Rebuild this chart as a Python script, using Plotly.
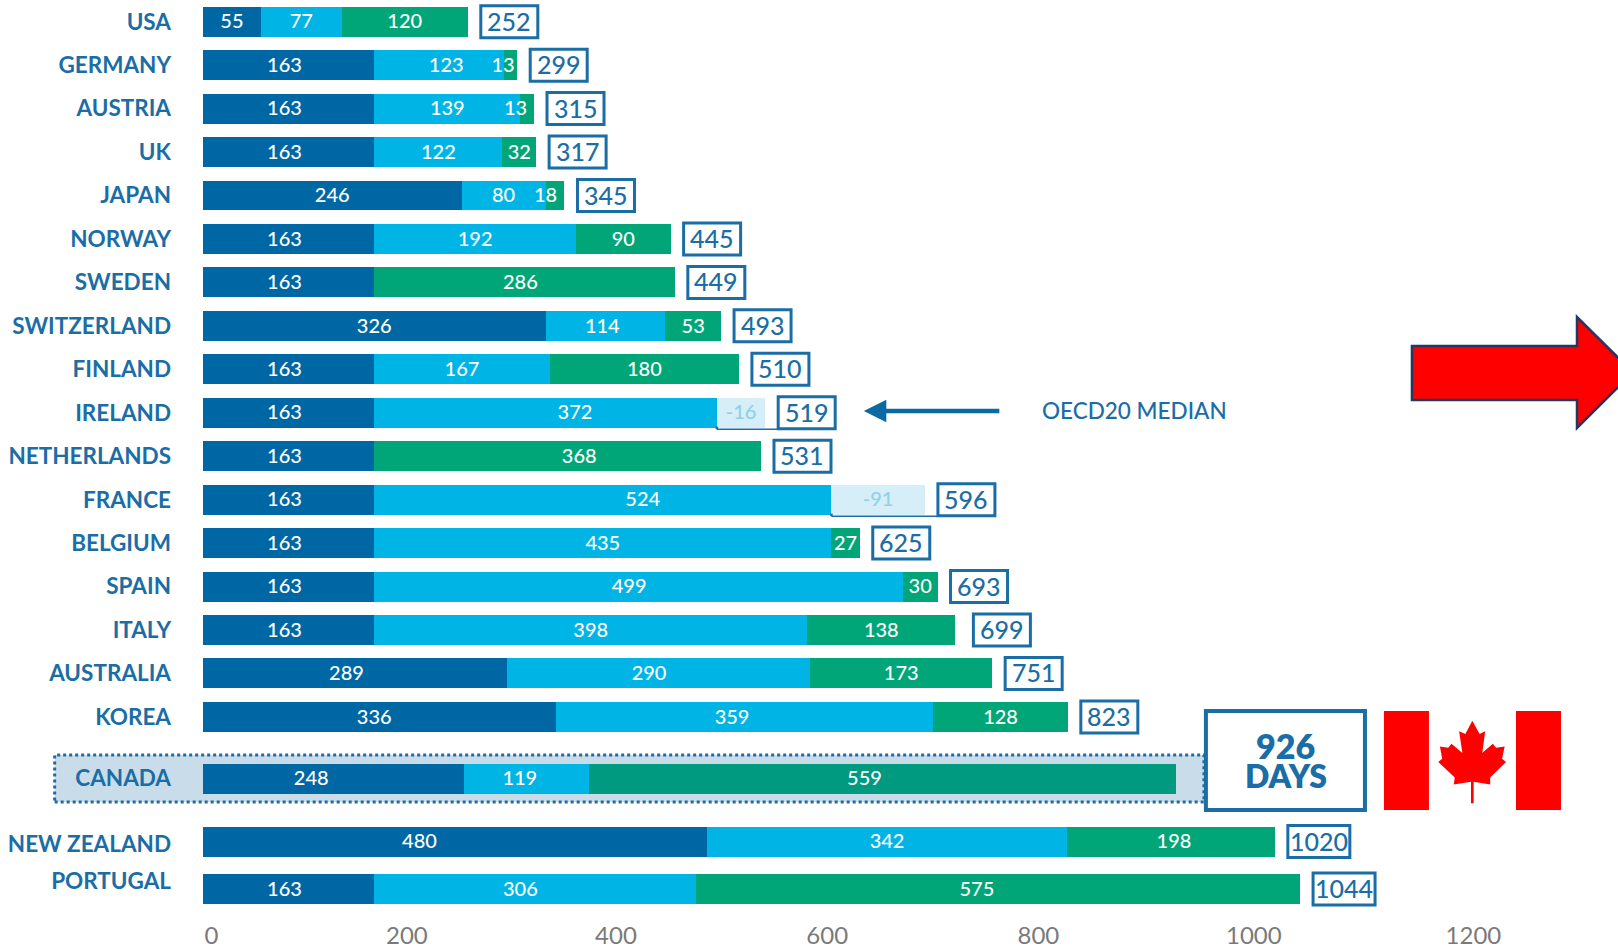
import plotly.graph_objects as go

# ---------- data ----------
countries = ["USA", "GERMANY", "AUSTRIA", "UK", "JAPAN", "NORWAY", "SWEDEN", "SWITZERLAND", "FINLAND", "IRELAND",
             "NETHERLANDS", "FRANCE", "BELGIUM", "SPAIN", "ITALY", "AUSTRALIA", "KOREA", "CANADA", "NEW ZEALAND", "PORTUGAL"]
# lengths as drawn
dark_len = [55, 163, 163, 163, 246, 163, 163, 326, 163, 163, 163, 163, 163, 163, 163, 289, 336, 248, 480, 163]
light_len = [77, 123, 139, 122, 80, 192, 0, 114, 167, 326, 0, 435, 435, 503, 412, 289, 359, 119, 342, 306]
green_len = [120, 13, 13, 32, 18, 90, 286, 53, 180, 0, 368, 0, 27, 33, 141, 173, 128, 559, 198, 575]
ghost_len = [0, 0, 0, 0, 0, 0, 0, 0, 0, 46, 0, 89, 0, 0, 0, 0, 0, 0, 0, 0]
# values as printed
dark_txt = ["55", "163", "163", "163", "246", "163", "163", "326", "163", "163", "163", "163", "163", "163", "163", "289", "336", "248", "480", "163"]
light_txt = ["77", "123", "139", "122", "80", "192", "", "114", "167", "372", "", "524", "435", "499", "398", "290", "359", "119", "342", "306"]
green_txt = ["120", "13", "13", "32", "18", "90", "286", "53", "180", "", "368", "", "27", "30", "138", "173", "128", "559", "198", "575"]
ghost_txt = ["", "", "", "", "", "", "", "", "", "-16", "", "-91", "", "", "", "", "", "", "", ""]
totals = [252, 299, 315, 317, 345, 445, 449, 493, 510, 519, 531, 596, 625, 693, 699, 751, 823, 926, 1020, 1044]
x_tick_text = ["0", "200", "400", "600", "800", "1000", "1200"]
# where the reference prints those labels on the bar scale
x_tick_pos = [8, 194, 393, 594, 795, 1000, 1209]

# ---------- layout constants ----------
rows = [0, 1, 2, 3, 4, 5, 6, 7, 8, 9, 10, 11, 12, 13, 14, 15, 16, 17.42, 18.87, 19.96]
label_rows = [0, 1, 2, 3, 4, 5, 6, 7, 8, 9, 10, 11, 12, 13, 14, 15, 16, 17.42, 18.92, 19.77]
label_nudge = {("GERMANY", 2): -7, ("AUSTRIA", 2): -11, ("JAPAN", 2): -9, ("IRELAND", 1): 28, ("FRANCE", 1): 38,
               ("AUSTRALIA", 0): -8, ("KOREA", 0): -5, ("CANADA", 0): -21, ("NEW ZEALAND", 0): -34,
               ("AUSTRALIA", 1): -9, ("KOREA", 1): -12, ("CANADA", 1): -6, ("PORTUGAL", 1): -14, ("SPAIN", 1): -9,
               ("GERMANY", 1): 7, ("SWITZERLAND", 1): -3,
               ("CANADA", 2): -17, ("PORTUGAL", 2): -20, ("NETHERLANDS", 2): 11, ("SWEDEN", 2): -4, ("NEW ZEALAND", 2): 3}
box_nudge = {"ITALY": 5}

W, H = 1618, 951
LEFT = 203.3
BOTTOM = 36
PLOT_H = H - BOTTOM
X_SCALE = 1.0506
ROW_PX = 43.45
ROW0_PX = 21.7
BLUE = "#1A6DA5"
DARK, LIGHT, GREEN, GREEN_CA, GHOST = "#0067A5", "#00B5E6", "#00A678", "#009A80", "#D6EEF8"
FONT = "Lato"


def px(x):
    return (x - LEFT) / (W - LEFT)


def py(y):
    return 1 - y / PLOT_H


def poly(points):
    return "M" + " L".join(f"{px(a):.5f},{py(b):.5f}" for a, b in points) + " Z"


fig = go.Figure()
greens = [GREEN_CA if c == "CANADA" else GREEN for c in countries]
for name, vals, col in [("Dark", dark_len, DARK), ("Light", light_len, LIGHT), ("Green", green_len, greens), ("Ghost", ghost_len, GHOST)]:
    fig.add_trace(go.Bar(y=rows, x=vals, name=name, orientation="h", width=0.69, marker=dict(color=col, line_width=0), showlegend=False))

# segment labels
lx, ly, lt, lc = [], [], [], []
for i, c in enumerate(countries):
    start = 0
    for s, (vals, txt) in enumerate([(dark_len, dark_txt), (light_len, light_txt), (green_len, green_txt), (ghost_len, ghost_txt)]):
        if txt[i]:
            lx.append(start + vals[i] / 2 + label_nudge.get((c, s), 0) - (4 if s == 0 and vals[i] == 163 else 0))
            ly.append(rows[i] + 0.04)
            lt.append(txt[i])
            lc.append("#8FD0EC" if s == 3 else "white")
        start += vals[i]
fig.add_trace(go.Scatter(x=lx, y=ly, text=lt, mode="text", textposition="middle center",
                         textfont=dict(family=FONT, size=20, color=lc, weight=500), showlegend=False, cliponaxis=False))

shapes = []
# Canada band
shapes.append(dict(type="rect", xref="paper", yref="paper", layer="below", x0=px(55), x1=px(1204), y0=py(802), y1=py(755),
                   fillcolor="#C9DCEA", line=dict(color=BLUE, width=3, dash="dot")))
# Big total box
shapes.append(dict(type="rect", xref="paper", yref="paper", x0=px(1206), x1=px(1365), y0=py(810), y1=py(711),
                   fillcolor="white", line=dict(color=BLUE, width=4)))
# Flag
shapes.append(dict(type="rect", xref="paper", yref="paper", x0=px(1384), x1=px(1429), y0=py(810), y1=py(711), fillcolor="#FF0000", line_width=0))
shapes.append(dict(type="rect", xref="paper", yref="paper", x0=px(1516), x1=px(1561), y0=py(810), y1=py(711), fillcolor="#FF0000", line_width=0))
leaf = [(1118, 90), (1140, 130), (1157, 122), (1148, 188), (1180, 160), (1190, 172), (1216, 168), (1208, 205), (1220, 215),
        (1172, 262), (1172, 283), (1122, 275), (1122, 340), (1114, 340), (1114, 275), (1062, 283), (1065, 262), (1015, 215),
        (1027, 205), (1020, 168), (1045, 172), (1055, 160), (1088, 188), (1078, 122), (1097, 130)]
shapes.append(dict(type="path", xref="paper", yref="paper", path=poly([(1103 + a / 3.027, 691 + b / 3.027) for a, b in leaf]),
                   fillcolor="#FF0000", line_width=0))
# Red arrow
shapes.append(dict(type="path", xref="paper", yref="paper",
                   path=poly([(1412, 346), (1577, 346), (1577, 317), (1633, 372.5), (1577, 428), (1577, 400), (1412, 400)]),
                   fillcolor="#FF0000", line=dict(color="#1F3864", width=2.5)))

ann = []
# total boxes
for i, c in enumerate(countries):
    if c == "CANADA":
        continue
    end = dark_len[i] + light_len[i] + green_len[i] + ghost_len[i]
    box_w = 62 if totals[i] >= 1000 else 57
    gap = 13 + box_nudge.get(c, 0)
    shapes.append(dict(type="rect", xref="x", yref="y", xsizemode="pixel", ysizemode="pixel", xanchor=end, yanchor=rows[i],
                       x0=gap, x1=gap + box_w, y0=-16, y1=16, fillcolor="white", line=dict(color=BLUE, width=3)))
    ann.append(dict(x=end, y=rows[i], xref="x", yref="y", xanchor="center", yanchor="middle", xshift=gap + box_w / 2, yshift=1,
                    text=str(totals[i]), showarrow=False, font=dict(family=FONT, size=25, color=BLUE, weight=500)))
    # connector under the faded segments
    if ghost_len[i]:
        start = dark_len[i] + light_len[i]
        yy = rows[i] + 0.38
        shapes.append(dict(type="line", xref="x", yref="y", x0=start, x1=end + 12, y0=yy, y1=yy, line=dict(color=BLUE, width=1.5)))
        shapes.append(dict(type="line", xref="x", yref="y", x0=start, x1=start, y0=rows[i] + 0.32, y1=yy, line=dict(color=BLUE, width=2.5)))

ann.append(dict(x=px(1286), y=py(745), xref="paper", yref="paper", xanchor="center", yanchor="middle", text="926", showarrow=False,
                font=dict(family=FONT, size=34, color=BLUE, weight=800)))
ann.append(dict(x=px(1286), y=py(775), xref="paper", yref="paper", xanchor="center", yanchor="middle", text="DAYS", showarrow=False,
                font=dict(family=FONT, size=32, color=BLUE, weight=800)))
# OECD median
ann.append(dict(x=px(864), y=py(411), xref="paper", yref="paper", ax=137, ay=0, text="", showarrow=True, arrowhead=2,
                arrowsize=1, arrowwidth=4.5, arrowcolor="#0B69A3"))
ann.append(dict(x=px(1040), y=py(411), xref="paper", yref="paper", xanchor="left", yanchor="middle", text="OECD20 MEDIAN", showarrow=False,
                font=dict(family=FONT, size=22.5, color=BLUE, weight=500)))

fig.update_layout(
    width=W, height=H, margin=dict(l=LEFT, r=0, t=0, b=BOTTOM), autosize=False,
    barmode="stack", paper_bgcolor="white", plot_bgcolor="rgba(0,0,0,0)", shapes=shapes, annotations=ann,
    xaxis=dict(range=[0, (W - LEFT) / X_SCALE], tickvals=x_tick_pos, ticktext=x_tick_text, ticks="", showgrid=False, zeroline=False, showline=False,
               tickfont=dict(family=FONT, size=24, color="#7A7A7A"), ticklabelstandoff=4),
    yaxis=dict(range=[(PLOT_H - ROW0_PX) / ROW_PX, -ROW0_PX / ROW_PX], tickvals=label_rows, ticktext=countries, ticks="",
               showgrid=False, zeroline=False, showline=False, tickfont=dict(family=FONT, size=22.5, color=BLUE, weight=700),
               ticklabelstandoff=31, automargin=False),
)
fig.write_html("out.html", config=dict(displayModeBar=False),
               post_script="document.body.style.margin='0';document.documentElement.style.overflow='hidden';")
